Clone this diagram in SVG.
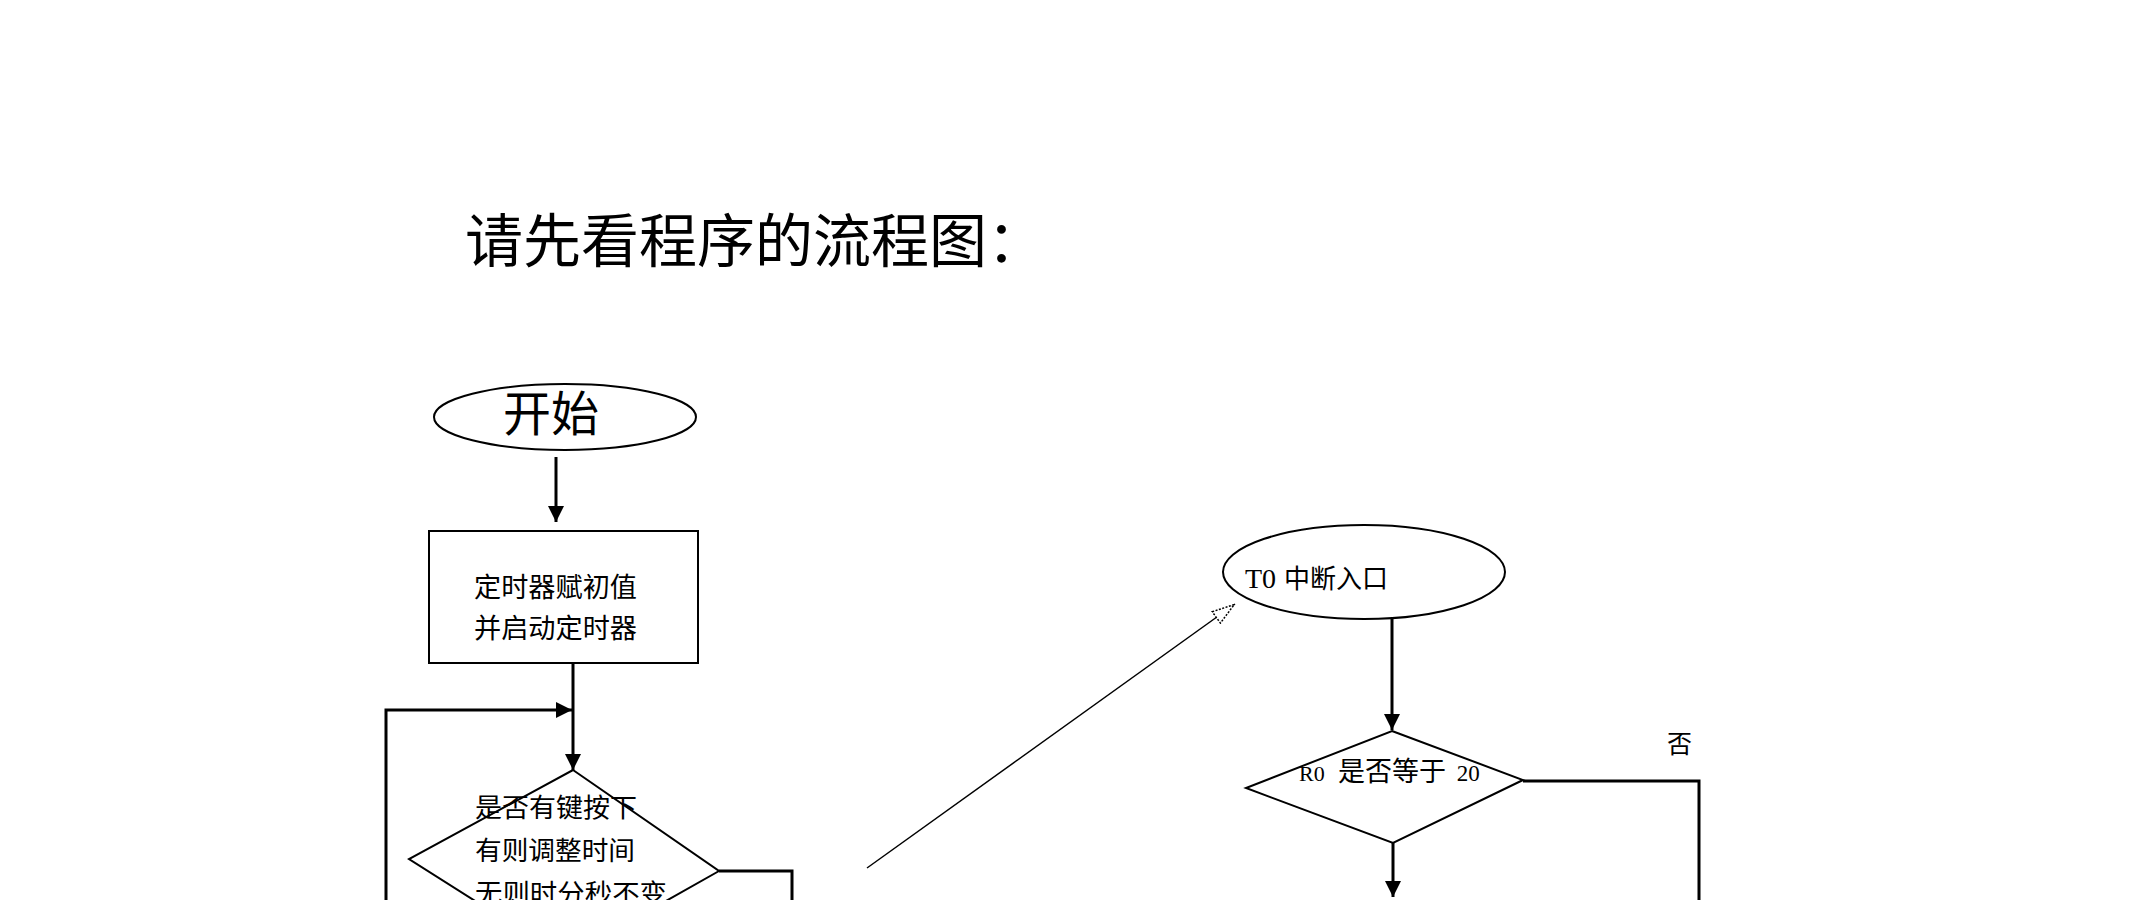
<svg xmlns="http://www.w3.org/2000/svg" width="2149" height="900" viewBox="0 0 2149 900">
<style>
.shape{fill:#fff;stroke:#000;stroke-width:2}
.cn{font-family:"Noto Sans CJK SC","Noto Sans",sans-serif;fill:#000}
.lat{font-family:"Liberation Serif",serif;fill:#000}
.conn{fill:none;stroke:#000;stroke-width:3}
.thin{fill:none;stroke:#000;stroke-width:1.5}
</style>
<defs>
<marker id="open" viewBox="0 0 24 16" refX="24" refY="8" markerWidth="24" markerHeight="16" markerUnits="userSpaceOnUse" orient="auto">
<path d="M1,1 L23,8 L1,15 Z" fill="#fff" stroke="#000" stroke-width="1.5" stroke-dasharray="2 1.5"/>
</marker>
<marker id="solidS" viewBox="0 0 10 10" refX="10" refY="5" markerWidth="16" markerHeight="16" markerUnits="userSpaceOnUse" orient="auto">
<path d="M0,0 L10,5 L0,10 Z" fill="#000"/>
</marker>
</defs>
<rect width="2149" height="900" fill="#fff"/>
<g id="title">
<text class="cn" font-size="58" x="465" y="262">请先看程序的流程图：</text>
</g>
<g id="connectors">
<line class="conn" x1="556" y1="457" x2="556" y2="522" marker-end="url(#solidS)"/>
<line class="conn" x1="573" y1="663" x2="573" y2="770" marker-end="url(#solidS)"/>
<polyline class="conn" points="386,900 386,710 572,710" marker-end="url(#solidS)"/>
<polyline class="conn" points="719,871 792,871 792,900"/>
<line class="thin" x1="867" y1="868" x2="1235" y2="604" marker-end="url(#open)"/>
<line class="conn" x1="1392" y1="619" x2="1392" y2="730" marker-end="url(#solidS)"/>
<polyline class="conn" points="1523,781 1699,781 1699,900"/>
<line class="conn" x1="1393" y1="843" x2="1393" y2="897" marker-end="url(#solidS)"/>
</g>
<g id="start">
<ellipse class="shape" cx="565" cy="417" rx="131" ry="33"/>
<text class="cn" font-size="48" x="551" y="431" text-anchor="middle">开始</text>
</g>
<g id="init">
<rect class="shape" x="429" y="531" width="269" height="132" stroke-width="3"/>
<text class="cn" font-size="27" x="474" y="597" textLength="163" lengthAdjust="spacingAndGlyphs">定时器赋初值</text>
<text class="cn" font-size="27" x="474" y="638" textLength="163" lengthAdjust="spacingAndGlyphs">并启动定时器</text>
</g>
<g id="key">
<polygon class="shape" points="573,770 719,871 565,958 409,859"/>
<text class="cn" font-size="26" x="475" y="817" textLength="162" lengthAdjust="spacingAndGlyphs">是否有键按下</text>
<text class="cn" font-size="26" x="475" y="860" textLength="160" lengthAdjust="spacingAndGlyphs">有则调整时间</text>
<text class="cn" font-size="26" x="475" y="903" textLength="192" lengthAdjust="spacingAndGlyphs">无则时分秒不变</text>
</g>
<g id="t0">
<ellipse class="shape" cx="1364" cy="572" rx="141" ry="47"/>
<text y="588"><tspan class="lat" font-size="28" x="1245">T0 </tspan><tspan class="cn" font-size="26" x="1284">中断入口</tspan></text>
</g>
<g id="r0">
<polygon class="shape" points="1392,731 1523,780 1393,843 1246,788"/>
<text y="781"><tspan class="lat" font-size="22" x="1299">R0 </tspan><tspan class="cn" font-size="27" x="1338">是否等于</tspan><tspan class="lat" font-size="23" x="1451"> 20</tspan></text>
</g>
<g id="label-no">
<text class="cn" font-size="25" x="1667" y="753">否</text>
</g>
</svg>
